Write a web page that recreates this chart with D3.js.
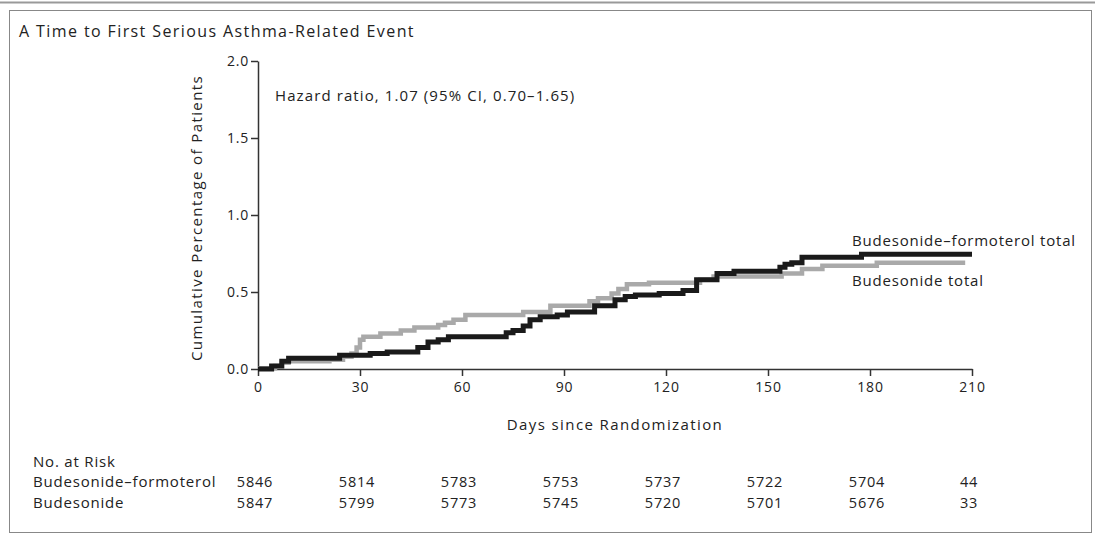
<!DOCTYPE html>
<html><head><meta charset="utf-8">
<script src="https://cdn.jsdelivr.net/npm/d3@7"></script>
<style>
body{margin:0;background:#fff;}
svg text{font-family:"Open Sans",sans-serif;fill:#222;letter-spacing:0.8px;}
</style></head>
<body><svg id="c" width="1095" height="535"></svg>
<script>
// Data
const xTicks = [0,30,60,90,120,150,180,210];
const yTicks = [0.0,0.5,1.0,1.5,2.0];
const budForTimes = [0,4,7,9,24,33,38,47,50,53,56,73,75,78,80,83,88,91,99,105,108,111,118,125,129,135,140,153.5,155,157,160,177.5,210];
const budForValues = [0,0.02,0.05,0.07,0.09,0.10,0.11,0.14,0.175,0.19,0.21,0.235,0.25,0.28,0.32,0.34,0.35,0.37,0.41,0.45,0.47,0.48,0.49,0.51,0.58,0.62,0.635,0.66,0.68,0.69,0.725,0.745,0.745];
const budTimes = [0,5,7,9,21,25,27.5,29,30,31,36,42,46,53,55,57.5,61,78,86,97.5,100,104,106,108.5,115,130,134,154,160,166,182,208];
const budValues = [0.005,0.02,0.04,0.05,0.06,0.08,0.10,0.14,0.19,0.21,0.23,0.25,0.27,0.285,0.30,0.32,0.35,0.37,0.41,0.44,0.46,0.49,0.52,0.55,0.56,0.58,0.60,0.62,0.65,0.67,0.69,0.69];
const riskLabels = ["Budesonide\u2013formoterol","Budesonide"];
const riskBudFor = [5846,5814,5783,5753,5737,5722,5704,44];
const riskBud = [5847,5799,5773,5745,5720,5701,5676,33];

const svg = d3.select("#c");
// frame
svg.append("line").attr("x1",0).attr("x2",1095).attr("y1",2.5).attr("y2",2.5).attr("stroke","#999").attr("stroke-width",2);
svg.append("rect").attr("x",9.5).attr("y",10.5).attr("width",1082).attr("height",522).attr("fill","none").attr("stroke","#888").attr("stroke-width",1);

svg.append("text").attr("x",19).attr("y",37).attr("font-size",16).style("letter-spacing","1.4px").text("A  Time to First Serious Asthma-Related Event");

const x = d3.scaleLinear().domain([0,210]).range([258,972]);
const y = d3.scaleLinear().domain([0,2]).range([369,61]);

const yAxis = svg.append("g").attr("transform","translate(258,0)")
  .call(d3.axisLeft(y).tickValues(yTicks).tickFormat(d3.format(".1f")).tickSize(7).tickSizeOuter(0));
const xAxis = svg.append("g").attr("transform","translate(0,369)")
  .call(d3.axisBottom(x).tickValues(xTicks).tickFormat(d3.format("d")).tickSize(7).tickSizeOuter(0));
[yAxis,xAxis].forEach(g=>{
  g.select(".domain").attr("stroke","#333").attr("stroke-width",1.5);
  g.selectAll(".tick line").attr("stroke","#333").attr("stroke-width",1.5);
  g.selectAll(".tick text").attr("font-size",14).attr("font-family","Open Sans, sans-serif").attr("fill","#222").style("letter-spacing","0.8px");
});
yAxis.selectAll(".tick text").attr("x",-9);
xAxis.selectAll(".tick text").attr("y",13);

svg.append("text").attr("transform","translate(202,218) rotate(-90)").attr("text-anchor","middle").attr("font-size",15).style("letter-spacing","1.4px").text("Cumulative Percentage of Patients");
svg.append("text").attr("x",615).attr("y",430).attr("text-anchor","middle").attr("font-size",15).style("letter-spacing","1.4px").text("Days since Randomization");
svg.append("text").attr("x",275).attr("y",101).attr("font-size",15).style("letter-spacing","1.1px").text("Hazard ratio, 1.07 (95% CI, 0.70\u20131.65)");

const line = d3.line().x(d=>x(d[0])).y(d=>y(d[1])).curve(d3.curveStepAfter);
const budData = d3.zip(budTimes,budValues);
const budForData = d3.zip(budForTimes,budForValues);
svg.append("path").datum(budData).attr("d",line).attr("fill","none").attr("stroke","#a9a9a9").attr("stroke-width",4.5);
svg.append("path").datum(budForData).attr("d",line).attr("fill","none").attr("stroke","#1a1a1a").attr("stroke-width",5);

svg.append("text").attr("x",852).attr("y",246).attr("font-size",15).text("Budesonide\u2013formoterol total");
svg.append("text").attr("x",852).attr("y",286).attr("font-size",15).text("Budesonide total");

// at-risk table
svg.append("text").attr("x",33).attr("y",467).attr("font-size",15).text("No. at Risk");
[riskBudFor,riskBud].forEach((vals,i)=>{
  const yy = 487 + i*21;
  svg.append("text").attr("x",33).attr("y",yy).attr("font-size",15).text(riskLabels[i]);
  svg.append("g").selectAll("text").data(vals).join("text")
    .attr("x",(d,j)=>x(xTicks[j])-3).attr("y",yy).attr("text-anchor","middle").attr("font-size",14.5).text(d=>d);
});
</script></body></html>
